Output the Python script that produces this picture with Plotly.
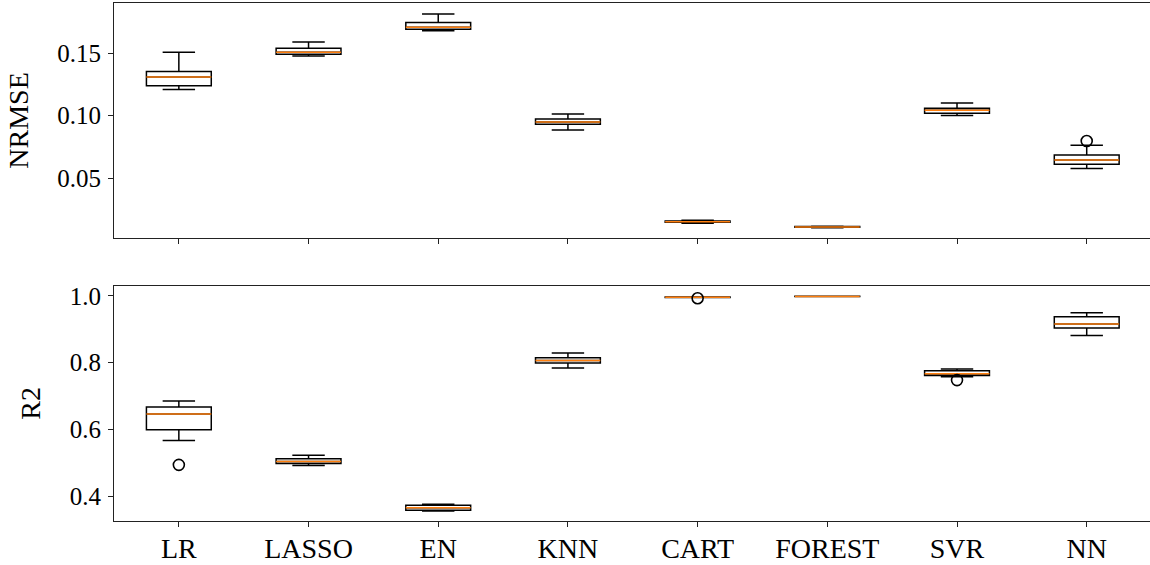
import plotly.graph_objects as go
from plotly.subplots import make_subplots

models = ["LR", "LASSO", "EN", "KNN", "CART", "FOREST", "SVR", "NN"]
positions = [1, 2, 3, 4, 5, 6, 7, 8]

# NRMSE box statistics
nrmse_low = [0.1209, 0.1478, 0.1680, 0.0886, 0.0140, 0.0104, 0.1001, 0.0577]
nrmse_q1 = [0.1240, 0.1492, 0.1692, 0.0932, 0.0147, 0.0107, 0.1020, 0.0612]
nrmse_med = [0.1310, 0.1508, 0.1708, 0.0950, 0.0152, 0.0110, 0.1044, 0.0646]
nrmse_q3 = [0.1353, 0.1540, 0.1745, 0.0974, 0.0157, 0.0113, 0.1060, 0.0686]
nrmse_high = [0.1508, 0.1590, 0.1814, 0.1014, 0.0163, 0.0116, 0.1102, 0.0764]
nrmse_out_x = [8]
nrmse_out_y = [0.0798]

# R2 box statistics
r2_low = [0.5670, 0.4920, 0.3560, 0.7835, 0.9945, 0.9975, 0.7575, 0.8814]
r2_q1 = [0.5988, 0.4980, 0.3584, 0.7985, 0.9950, 0.9978, 0.7617, 0.9033]
r2_med = [0.6458, 0.5040, 0.3653, 0.8066, 0.9955, 0.9980, 0.7665, 0.9153]
r2_q3 = [0.6668, 0.5120, 0.3734, 0.8144, 0.9960, 0.9982, 0.7755, 0.9370]
r2_high = [0.6847, 0.5230, 0.3763, 0.8284, 0.9965, 0.9985, 0.7805, 0.9490]
r2_out_x = [1, 5, 7]
r2_out_y = [0.4940, 0.9925, 0.7476]

BOX_W = 0.5
FONT = "Liberation Serif, Times New Roman, serif"
ORANGE = "#ff7f0e"

fig = make_subplots(rows=2, cols=1, shared_xaxes=True, vertical_spacing=0.09)


def add_panel(row, low, q1, med, q3, high, ox, oy):
    fig.add_trace(go.Box(
        x=positions, q1=q1, median=med, q3=q3, lowerfence=low, upperfence=high,
        width=BOX_W, whiskerwidth=0.5, fillcolor="rgba(255,255,255,0)",
        line=dict(color="black", width=1.5), boxpoints=False,
        showlegend=False, hoverinfo="y"), row=row, col=1)
    mx, my = [], []
    for p, m in zip(positions, med):
        mx += [p - BOX_W / 2, p + BOX_W / 2, None]
        my += [m, m, None]
    fig.add_trace(go.Scatter(x=mx, y=my, mode="lines",
                             line=dict(color=ORANGE, width=1.5),
                             showlegend=False, hoverinfo="skip"), row=row, col=1)
    fig.add_trace(go.Scatter(x=ox, y=oy, mode="markers",
                             marker=dict(symbol="circle-open", size=11, color="black",
                                         line=dict(width=1.6, color="black")),
                             showlegend=False), row=row, col=1)


add_panel(1, nrmse_low, nrmse_q1, nrmse_med, nrmse_q3, nrmse_high, nrmse_out_x, nrmse_out_y)
add_panel(2, r2_low, r2_q1, r2_med, r2_q3, r2_high, r2_out_x, r2_out_y)

axis_common = dict(showline=True, linecolor="#222", linewidth=1.2, mirror=True,
                   ticks="outside", ticklen=5, tickwidth=1.2, tickcolor="#222",
                   showgrid=False, zeroline=False)

fig.update_xaxes(**axis_common, range=[0.5, 8.488], tickmode="array",
                 tickvals=positions, ticktext=models, ticklabelstandoff=-3,
                 tickfont=dict(family=FONT, size=28, color="black"))
fig.update_xaxes(showticklabels=False, row=1, col=1)

fig.update_yaxes(**axis_common, tickfont=dict(family=FONT, size=25, color="black"),
                 automargin=False, ticklabelstandoff=2)
fig.update_yaxes(range=[0.0022, 0.1902], tickvals=[0.05, 0.10, 0.15],
                 ticktext=["0.05", "0.10", "0.15"], domain=[0.5464, 1.0],
                 title=dict(text="NRMSE", font=dict(family=FONT, size=28, color="black"),
                            standoff=20), row=1, col=1)
fig.update_yaxes(range=[0.326, 1.030], tickvals=[0.4, 0.6, 0.8, 1.0],
                 ticktext=["0.4", "0.6", "0.8", "1.0"], domain=[0.0, 0.4542],
                 title=dict(text="R2", font=dict(family=FONT, size=28, color="black"),
                            standoff=20), row=2, col=1)

fig.update_layout(width=1150, height=565, margin=dict(l=114, r=0, t=3, b=44),
                  plot_bgcolor="white", paper_bgcolor="white",
                  font=dict(family=FONT, color="black"), boxmode="overlay")

fig.write_html("out.html")
